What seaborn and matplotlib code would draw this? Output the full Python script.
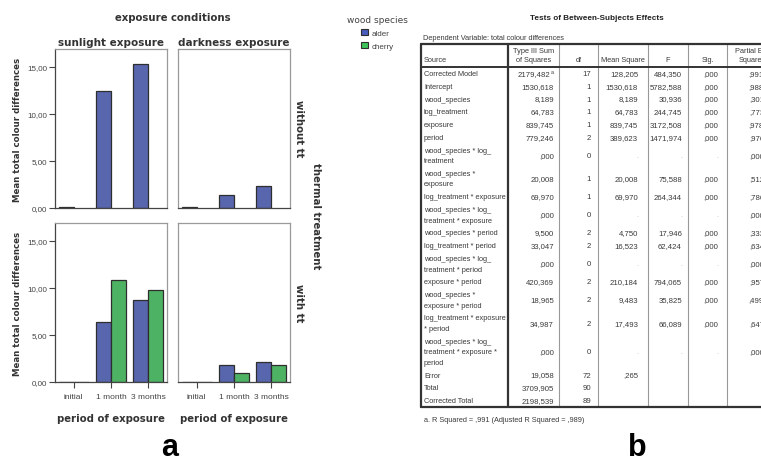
import numpy as np
import pandas as pd
import matplotlib.pyplot as plt
from matplotlib.patches import Patch
import seaborn as sns

# ---- chart (a): mean total colour differences ----
periods = ["initial", "1 month", "3 months"]
species = ["alder", "cherry"]
exposures = ["sunlight exposure", "darkness exposure"]
treatments = ["without tt", "with tt"]

sun_without_alder = [0.06, 12.45, 15.3]
dark_without_alder = [0.06, 1.42, 2.37]
sun_with_alder = [0.05, 6.35, 8.7]
sun_with_cherry = [0.05, 10.85, 9.83]
dark_with_alder = [0.05, 1.78, 2.17]
dark_with_cherry = [0.05, 0.96, 1.81]

yticks = [0, 5, 10, 15]
ytick_labels = ["0,00", "5,00", "10,00", "15,00"]

# ---- table (b): tests of between-subjects effects ----
sources = ["Corrected Model", "Intercept", "wood_species", "log_treatment", "exposure", "period",
           "wood_species * log_\ntreatment", "wood_species *\nexposure", "log_treatment * exposure",
           "wood_species * log_\ntreatment * exposure", "wood_species * period",
           "log_treatment * period", "wood_species * log_\ntreatment * period", "exposure * period",
           "wood_species *\nexposure * period", "log_treatment * exposure\n* period",
           "wood_species * log_\ntreatment * exposure *\nperiod", "Error", "Total", "Corrected Total"]
sum_sq = ["2179,482", "1530,618", "8,189", "64,783", "839,745", "779,246", ",000", "20,008", "69,970",
          ",000", "9,500", "33,047", ",000", "420,369", "18,965", "34,987", ",000", "19,058",
          "3709,905", "2198,539"]
dfs = ["17", "1", "1", "1", "1", "2", "0", "1", "1", "0", "2", "2", "0", "2", "2", "2", "0", "72", "90", "89"]
mean_sq = ["128,205", "1530,618", "8,189", "64,783", "839,745", "389,623", ".", "20,008", "69,970", ".",
           "4,750", "16,523", ".", "210,184", "9,483", "17,493", ".", ",265", "", ""]
f_vals = ["484,350", "5782,588", "30,936", "244,745", "3172,508", "1471,974", ".", "75,588", "264,344",
          ".", "17,946", "62,424", ".", "794,065", "35,825", "66,089", ".", "", "", ""]
sig = [",000", ",000", ",000", ",000", ",000", ",000", ".", ",000", ",000", ".", ",000", ",000", ".",
       ",000", ",000", ",000", ".", "", "", ""]
eta = [",991", ",988", ",301", ",773", ",978", ",976", ",000", ",512", ",786", ",000", ",333", ",634",
       ",000", ",957", ",499", ",647", ",000", "", "", ""]
headers = ["Source", "Type III Sum\nof Squares", "df", "Mean Square", "F", "Sig.", "Partial Eta\nSquared"]

blue, green = "#4a5cbc", "#3cc35a"
pal = {"alder": blue, "cherry": green}

sns.set_theme(style="white")
plt.rcParams["font.family"] = ["DejaVu Sans"]
narrow = ["Liberation Sans", "DejaVu Sans"]

rows = []
for exp, tt, sp, vals in [
    (exposures[0], treatments[0], "alder", sun_without_alder),
    (exposures[1], treatments[0], "alder", dark_without_alder),
    (exposures[0], treatments[1], "alder", sun_with_alder),
    (exposures[0], treatments[1], "cherry", sun_with_cherry),
    (exposures[1], treatments[1], "alder", dark_with_alder),
    (exposures[1], treatments[1], "cherry", dark_with_cherry),
]:
    for p, v in zip(periods, vals):
        rows.append({"exposure": exp, "tt": tt, "species": sp, "period": p, "value": v})
df = pd.DataFrame(rows)

W, H = 761, 464
fig = plt.figure(figsize=(W / 100, H / 100), dpi=100)

# table/annotation layer in pixel coordinates
tax = fig.add_axes([0, 0, 1, 1])
tax.set_xlim(0, W)
tax.set_ylim(H, 0)
tax.axis("off")


def rect(x0, y0, x1, y1):
    return [x0 / W, 1 - y1 / H, (x1 - x0) / W, (y1 - y0) / H]


cols_x = [(55, 167), (178, 290)]
rows_y = [(50, 209), (224, 383)]
for i, tt in enumerate(treatments):
    for j, exp in enumerate(exposures):
        ax = fig.add_axes(rect(cols_x[j][0], rows_y[i][0], cols_x[j][1], rows_y[i][1]))
        sub = df[(df.tt == tt) & (df.exposure == exp)]
        sns.barplot(data=sub, x="period", y="value", hue="species", order=periods,
                    hue_order=species, palette=pal, errorbar=None, width=0.8, dodge=True,
                    edgecolor="#2e2e2e", linewidth=0.9, legend=False, ax=ax)
        ax.set_ylim(0, 16.9)
        ax.set_xlim(-0.5, 2.5)
        for s in ax.spines.values():
            s.set_color("#9a9a9a")
            s.set_linewidth(0.9)
        ax.spines["bottom"].set_color("#444444")
        ax.set_yticks(yticks)
        if j == 0:
            ax.spines["left"].set_color("#444444")
            ax.set_yticklabels(ytick_labels, family=narrow, fontsize=5.8, color="#444444")
            ax.tick_params(axis="y", length=4, width=0.8, color="#444444", pad=1.5, left=True)
            ax.set_ylabel("Mean total colour differences", fontsize=6.2, fontweight="bold",
                          color="#333333", labelpad=4)
        else:
            ax.set_yticklabels([])
            ax.tick_params(axis="y", length=0)
            ax.set_ylabel("")
        if i == 1:
            ax.set_xticks(range(len(periods)))
            ax.set_xticklabels(periods, family=narrow, fontsize=6, color="#444444")
            ax.tick_params(axis="x", length=4, width=0.8, color="#444444", pad=4, bottom=True)
            ax.set_xlabel("period of exposure", fontsize=7.3, fontweight="bold", color="#333333",
                          labelpad=9)
        else:
            ax.set_xticklabels([])
            ax.tick_params(axis="x", length=0)
            ax.set_xlabel("")
            ax.set_title(exp, fontsize=7.5, fontweight="bold", color="#333333", pad=3)

tax.text(173, 18, "exposure conditions", ha="center", va="center", fontsize=7.3,
         fontweight="bold", color="#333333")
tax.text(299, 129, "without tt", ha="center", va="center", rotation=270, fontsize=7.3,
         fontweight="bold", color="#333333")
tax.text(299, 303, "with tt", ha="center", va="center", rotation=270, fontsize=7.3,
         fontweight="bold", color="#333333")
tax.text(316, 216, "thermal treatment", ha="center", va="center", rotation=270, fontsize=7.3,
         fontweight="bold", color="#333333")

handles = [Patch(facecolor=pal[s], edgecolor="#2e2e2e", linewidth=0.8, label=s) for s in species]
leg = fig.legend(handles=handles, title="wood species", loc="upper left",
                 bbox_to_anchor=(340 / W, 1 - 9 / H), frameon=False,
                 title_fontsize=6.5, handlelength=0.8, handleheight=0.8, handletextpad=0.5,
                 labelspacing=0.6, prop={"family": narrow, "size": 5.8})
leg.get_title().set_color("#444444")
for t in leg.get_texts():
    t.set_color("#444444")

tax.text(170, 448, "a", ha="center", va="center", fontsize=22, fontweight="bold",
         family="Liberation Sans", color="black")
tax.text(637, 448, "b", ha="center", va="center", fontsize=22, fontweight="bold",
         family="Liberation Sans", color="black")

# ---- table drawing ----
tc = "#3a3a3a"
fs = 5.3
edges = [421, 508, 559, 598, 648, 688, 727, 777]
pads = [0, 5, 7, 10, 6, 9, 13]
top, head_bot = 45, 68
line_h, row_h = 10.5, 12.8

tax.text(597, 19, "Tests of Between-Subjects Effects", ha="center", va="center", fontsize=5.9,
         fontweight="bold", family=narrow, color="#222222")
tax.text(423, 38, "Dependent Variable: total colour differences", ha="left", va="center",
         fontsize=fs, family=narrow, color=tc)

# header
for k, h in enumerate(headers):
    lines = h.split("\n")
    for n, ln in enumerate(lines):
        y = 61 - (len(lines) - 1 - n) * 9.5
        if k == 0:
            tax.text(edges[0] + 3, y, ln, ha="left", va="center", fontsize=fs, family=narrow, color=tc)
        else:
            tax.text((edges[k] + edges[k + 1]) / 2, y, ln, ha="center", va="center", fontsize=fs,
                     family=narrow, color=tc)

y = head_bot
cols = [sum_sq, dfs, mean_sq, f_vals, sig, eta]
for r, src in enumerate(sources):
    lines = src.split("\n")
    h = row_h + (len(lines) - 1) * line_h
    for n, ln in enumerate(lines):
        tax.text(edges[0] + 3, y + row_h / 2 + n * line_h, ln, ha="left", va="center",
                 fontsize=fs, family=narrow, color=tc)
    yc = y + h / 2
    for c, col in enumerate(cols):
        val = col[r]
        if not val:
            continue
        xr = edges[c + 2] - pads[c + 1]
        color = "#bbbbbb" if val == "." else tc
        if c == 0 and r == 0:
            tax.text(xr, yc - 2, "a", ha="right", va="center", fontsize=3.8, family=narrow, color=tc)
            xr -= 3.5
        tax.text(xr, yc, val, ha="right", va="center", fontsize=5.6, family=narrow, color=color)
    y += h
bottom = y

for k, x in enumerate(edges[1:-1]):
    tax.plot([x, x], [top, bottom], color="#333333" if k == 0 else "#999999",
             lw=1.6 if k == 0 else 0.8)
tax.plot([edges[0], edges[0]], [top, bottom], color="#333333", lw=1.6)
tax.plot([edges[0], edges[-1]], [top, top], color="#333333", lw=1.6)
tax.plot([edges[0], edges[-1]], [head_bot, head_bot], color="#333333", lw=1.4)
tax.plot([edges[0], edges[-1]], [bottom, bottom], color="#333333", lw=1.6)

tax.text(424, bottom + 12, "a. R Squared = ,991 (Adjusted R Squared = ,989)", ha="left",
         va="center", fontsize=5.3, family=narrow, color=tc)

fig.savefig("out.png", dpi=100)
